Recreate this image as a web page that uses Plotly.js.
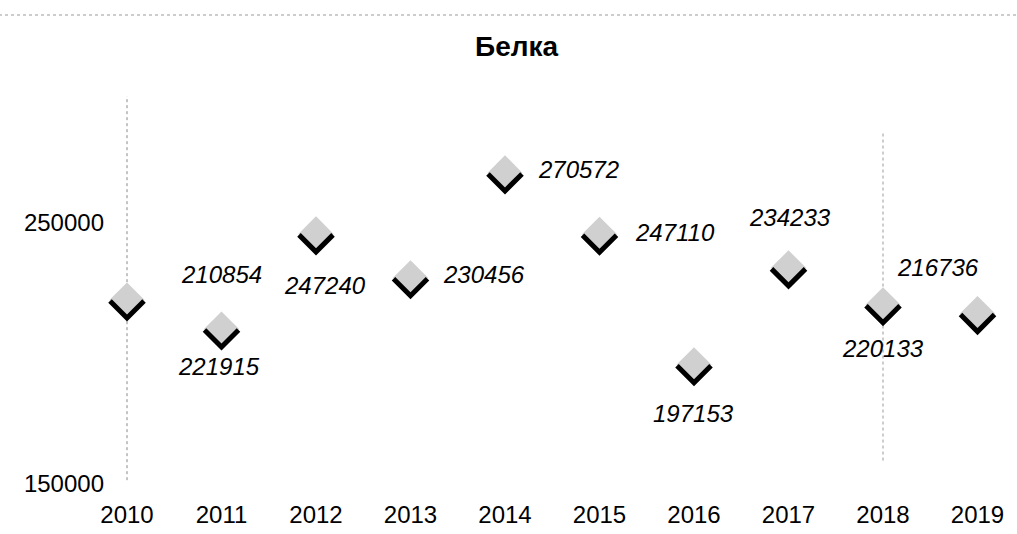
<!DOCTYPE html>
<html>
<head>
<meta charset="utf-8">
<script src="https://cdn.plot.ly/plotly-3.0.1.min.js"></script>
<style>html,body{margin:0;padding:0;background:#fff;}#chart{width:1017px;height:534px;}</style>
</head>
<body>
<div id="chart"></div>
<script>
// ---- data ----
const years = [2010, 2011, 2012, 2013, 2014, 2015, 2016, 2017, 2018, 2019];
const yearLabels = ['2010', '2011', '2012', '2013', '2014', '2015', '2016', '2017', '2018', '2019'];
const values = [221915, 210854, 247240, 230456, 270572, 247110, 197153, 234233, 220133, 216736];
const valueLabels = ['221915', '210854', '247240', '230456', '270572', '247110', '197153', '234233', '220133', '216736'];
const yTickVals = [150000, 250000];
const yTickText = ['150000', '250000'];
const chartTitle = 'Белка';

// ---- style: label offsets in pixels (dx right, dy down) ----
const labelOffsets = [[92, 66], [0, -54], [9, 52], [73, -3], [73, -3], [75, -2], [-1, 49], [1, -50], [0, 44], [-40, -46]];

const FONT = 'Liberation Sans, Arial, sans-serif';

const trace = {
  x: years,
  y: values,
  type: 'scatter',
  mode: 'markers',
  marker: {symbol: 'diamond', size: 27, color: '#d0d0d0', line: {width: 0}},
  cliponaxis: false,
  hoverinfo: 'skip',
  showlegend: false
};

const shapes = [];
// dotted y-axis line at first category
shapes.push({type: 'line', xref: 'x', yref: 'paper', x0: years[0], x1: years[0], y0: 0.02, y1: 1,
  line: {color: '#8a8a8a', width: 1, dash: 'dot'}, layer: 'below'});
// faint dotted remnant of a vertical gridline
shapes.push({type: 'line', xref: 'x', yref: 'paper', x0: years[8], x1: years[8], y0: 0.07, y1: 0.91,
  line: {color: '#9a9a9a', width: 1, dash: 'dot'}, layer: 'below'});
// dotted top border
shapes.push({type: 'line', xref: 'paper', yref: 'paper', x0: -0.1, x1: 1.02, y0: 1.2066, y1: 1.2066,
  line: {color: '#9a9a9a', width: 1, dash: 'dot'}, layer: 'below'});
// check marks under each diamond
years.forEach((yr, i) => {
  shapes.push({type: 'path', xref: 'x', yref: 'y', xsizemode: 'pixel', ysizemode: 'pixel',
    xanchor: yr, yanchor: values[i], path: 'M -17 -1 L 0 -18 L 17 -1',
    line: {color: '#000', width: 5}, layer: 'above'});
});

const annotations = years.map((yr, i) => ({
  x: yr, y: values[i], xref: 'x', yref: 'y', text: valueLabels[i], showarrow: false,
  xanchor: 'center', yanchor: 'middle',
  xshift: labelOffsets[i][0], yshift: -labelOffsets[i][1],
  font: {family: FONT, size: 24, color: '#000', style: 'italic'}
}));

const layout = {
  width: 1017, height: 534,
  margin: {l: 90, r: 17, t: 96, b: 46},
  paper_bgcolor: '#fff', plot_bgcolor: '#fff',
  title: {text: chartTitle, font: {family: FONT, size: 28, color: '#000', weight: 'bold'},
    xref: 'container', yref: 'container', x: 0.508, y: 0.914, xanchor: 'center', yanchor: 'middle'},
  xaxis: {
    range: [2009.6085, 2019.238], tickvals: years, ticktext: yearLabels,
    tickfont: {family: FONT, size: 24, color: '#000'},
    showgrid: false, zeroline: false, showline: false, ticks: '', ticklabelstandoff: 10
  },
  yaxis: {
    range: [150000, 300000], tickvals: yTickVals, ticktext: yTickText,
    tickfont: {family: FONT, size: 24, color: '#000'},
    anchor: 'free', position: 0.04066,
    showgrid: false, zeroline: false, showline: false, ticks: '', ticklabelstandoff: 23, ticklabelshift: -4
  },
  shapes: shapes,
  annotations: annotations,
  showlegend: false
};

Plotly.newPlot('chart', [trace], layout, {displayModeBar: false, staticPlot: true});
</script>
</body>
</html>
